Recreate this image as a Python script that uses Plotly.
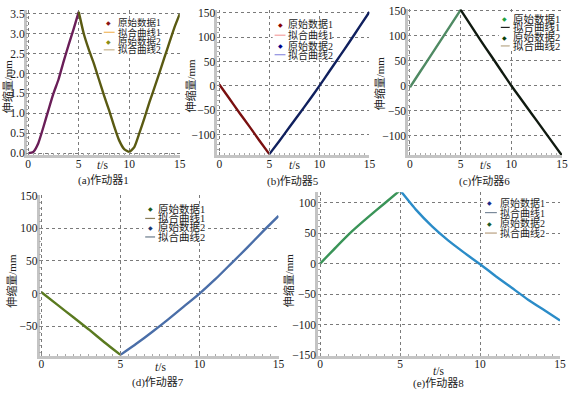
import plotly.graph_objects as go

# ---------------- data ----------------
t_half_0_5 = [0, 0.5, 1, 1.5, 2, 2.5, 3, 3.5, 4, 4.5, 5]
t_half_5_15 = [5, 5.5, 6, 6.5, 7, 7.5, 8, 8.5, 9, 9.5, 10, 10.5, 11, 11.5,
               12, 12.5, 13, 13.5, 14, 14.5, 15]
t_0_5 = [0, 1, 2, 3, 4, 5]
t_5_15 = [5, 6, 7, 8, 9, 10, 11, 12, 13, 14, 15]

# (a) actuator 1
a1_y = [0, 0.03, 0.25, 0.65, 1.08, 1.5, 1.85, 2.3, 2.72, 3.12, 3.55]
a2_y = [3.55, 3.0, 2.6, 2.25, 1.85, 1.45, 1.08, 0.68, 0.32, 0.1, 0.03, 0.15,
        0.5, 0.88, 1.28, 1.65, 2.03, 2.42, 2.8, 3.18, 3.5]
# (b) actuator 5
b1_y = [3, -26, -55, -83, -112, -140]
b2_y = [-140, -113, -85, -57, -29, 0, 30, 60, 90, 121, 152]
# (c) actuator 6
c1_y = [-3, 28, 59, 90, 121, 152]
c2_y = [152, 121, 90, 60, 30, 0, -28, -56, -84, -112, -140]
# (d) actuator 7
d1_y = [2, -17, -36, -55, -75, -94]
d2_y = [-94, -77, -59, -40, -20, 0, 22, 46, 70, 95, 119]
# (e) actuator 8
e1_y = [0, 27, 53, 76, 98, 120]
e2_y = [120, 88, 61, 38, 18, -1, -21, -40, -59, -76, -93]

x_ticks = [0, 5, 10, 15]
a_yticks = [0, 0.5, 1.0, 1.5, 2.0, 2.5, 3.0, 3.5]
bc_yticks = [-100, -50, 0, 50, 100, 150]
d_yticks = [-50, 0, 50, 100, 150]
e_yticks = [-150, -100, -50, 0, 50, 100]

titles = ["(a)作动器1", "(b)作动器5", "(c)作动器6", "(d)作动器7", "(e)作动器8"]
legend_labels = ["原始数据1", "拟合曲线1", "原始数据2", "拟合曲线2"]
x_title = "<i>t</i>/s"
y_title = "伸缩量/mm"

# ---------------- layout helpers ----------------
W, H = 571, 394
def fx(p):
    return p / W
def fy(p):
    return 1 - p / H

SERIF = "Liberation Serif"
MIXED = "Liberation Serif, Noto Sans CJK SC"

panels = [
    dict(xd=(26, 181), yd=(5, 154), xr=[-0.15, 15], yr=[-0.05, 3.6], yt=a_yticks, fmt=".1f", minor=0.1,
         curves=[(t_half_0_5, a1_y, "#6a1e58"), (t_half_5_15, a2_y, "#5a5a12")],
         title=(104, 180), xt=(103, 164), ytl=(6.5, 83),
         leg=dict(mx=109, tx=116, rows=[18, 28, 37, 46], lx=(104, 115), size=9.5, right=160,
                  cols=["#8b1414", "#f2b860", "#8c8c14", "#c8b48c"])),
    dict(xd=(219, 373), yd=(5, 154), xr=[-0.2, 15], yr=[-142, 156], yt=bc_yticks, fmt="d", minor=10,
         curves=[(t_0_5, b1_y, "#7a1010"), (t_5_15, b2_y, "#10205e")],
         title=(296, 181), xt=(297, 164), ytl=(192, 83),
         leg=dict(mx=283, tx=289, rows=[20, 31, 42, 51], lx=(277, 288), size=10, right=335,
                  cols=["#8b0000", "#f4a0a0", "#00008b", "#9090e0"])),
    dict(xd=(412, 568), yd=(4, 154), xr=[-0.2, 15], yr=[-139, 154], yt=bc_yticks, fmt="d", minor=10,
         curves=[(t_0_5, c1_y, "#4f8a63"), (t_5_15, c2_y, "#101a10")],
         title=(490, 181), xt=(491, 164), ytl=(384, 80),
         leg=dict(mx=510, tx=516, rows=[14, 23, 33, 42], lx=(506, 515), size=10.5, right=570,
                  cols=["#22a040", "#202020", "#0a400a", "#b8a888"])),
    dict(xd=(39, 281), yd=(195, 360), xr=[-0.12, 15], yr=[-95.5, 151], yt=d_yticks, fmt="d", minor=10,
         curves=[(t_0_5, d1_y, "#5a7a20"), (t_5_15, d2_y, "#4a6ea8")],
         title=(159, 387), xt=(161, 371), ytl=(11, 283),
         leg=dict(mx=151, tx=157, rows=[209, 219, 228, 238], lx=(146, 156), size=10.5, right=206,
                  cols=["#1d5a1d", "#8b7d5a", "#1a3570", "#6a7a8a"])),
    dict(xd=(321, 566), yd=(192, 360), xr=[-0.13, 15], yr=[-151, 117], yt=e_yticks, fmt="d", minor=10,
         curves=[(t_0_5, e1_y, "#3a9458"), (t_5_15, e2_y, "#2b8cc8")],
         title=(443, 388.5), xt=(443, 376), ytl=(291, 282),
         leg=dict(mx=495, tx=503, rows=[203, 213, 224, 234], lx=(490, 502), size=10, right=550,
                  cols=["#1a2a8a", "#7a8a9a", "#1a5a2a", "#b8a080"])),
]

fig = go.Figure()
layout = dict(width=W, height=H, margin=dict(l=0, r=0, t=0, b=0),
              paper_bgcolor="white", plot_bgcolor="white", showlegend=False,
              font=dict(family=MIXED, size=11, color="#222"))
annotations = []
shapes = []

for i, p in enumerate(panels):
    n = i + 1
    xa = "x" if n == 1 else f"x{n}"
    ya = "y" if n == 1 else f"y{n}"
    xkey = "xaxis" if n == 1 else f"xaxis{n}"
    ykey = "yaxis" if n == 1 else f"yaxis{n}"
    for (tx, ty, col) in p["curves"]:
        fig.add_trace(go.Scatter(x=tx, y=ty, mode="lines", xaxis=xa, yaxis=ya,
                                 line=dict(color=col, width=2.4, shape="spline", smoothing=0.5)))
    common = dict(showline=True, linecolor="#c4c4c4", linewidth=2.5, zeroline=False,
                  showgrid=True, gridcolor="#7a7a7a", griddash="dot", gridwidth=1,
                  ticks="inside", ticklen=3, tickcolor="#888",
                  tickfont=dict(family=SERIF, size=11.5, color="#222"))
    layout[xkey] = dict(common, domain=[fx(p["xd"][0]), fx(p["xd"][1])], range=p["xr"],
                        tickvals=x_ticks, anchor=ya, ticklabelstandoff=-4,
                        minor=dict(ticks="inside", ticklen=2, tickcolor="#aaa", dtick=0.5))
    ytickfmt = ".1f" if p["fmt"] == ".1f" else "d"
    layout[ykey] = dict(common, domain=[fy(p["yd"][1]), fy(p["yd"][0])], range=p["yr"],
                        tickvals=p["yt"], tickformat=ytickfmt, anchor=xa, ticklabelstandoff=-3,
                        minor=dict(ticks="inside", ticklen=2, tickcolor="#aaa", dtick=p["minor"]))
    # titles
    annotations.append(dict(x=fx(p["title"][0]), y=fy(p["title"][1]), xref="paper", yref="paper",
                            text=titles[i], showarrow=False, xanchor="center", yanchor="middle",
                            font=dict(family=MIXED, size=11, color="#222")))
    annotations.append(dict(x=fx(p["xt"][0]), y=fy(p["xt"][1]), xref="paper", yref="paper",
                            text=x_title, showarrow=False, xanchor="center", yanchor="middle",
                            font=dict(family=SERIF, size=11.5, color="#222")))
    annotations.append(dict(x=fx(p["ytl"][0]), y=fy(p["ytl"][1]), xref="paper", yref="paper",
                            text=y_title, showarrow=False, xanchor="center", yanchor="middle",
                            textangle=-90, font=dict(family=MIXED, size=11, color="#222")))
    # manual compact legend
    lg = p["leg"]
    rows = lg["rows"]
    shapes.append(dict(type="rect", xref="paper", yref="paper", layer="above",
                       x0=fx(lg["lx"][0] - 2), x1=fx(lg["right"]),
                       y0=fy(rows[-1] + 5), y1=fy(rows[0] - 5),
                       fillcolor="white", line=dict(width=0)))
    for k, lab in enumerate(legend_labels):
        yy = fy(rows[k])
        if k % 2 == 0:
            annotations.append(dict(x=fx(lg["mx"]), y=yy, xref="paper", yref="paper",
                                    text="◆", showarrow=False, xanchor="center", yanchor="middle",
                                    font=dict(family="DejaVu Sans", size=6, color=lg["cols"][k])))
        else:
            shapes.append(dict(type="line", xref="paper", yref="paper", layer="above",
                               x0=fx(lg["lx"][0]), x1=fx(lg["lx"][1]), y0=yy, y1=yy,
                               line=dict(color=lg["cols"][k], width=1.2)))
        annotations.append(dict(x=fx(lg["tx"]), y=yy, xref="paper", yref="paper",
                                text=lab, showarrow=False, xanchor="left", yanchor="middle",
                                font=dict(family=MIXED, size=lg["size"], color="#222")))

layout["annotations"] = annotations
layout["shapes"] = shapes
fig.update_layout(**layout)
fig.write_html("out.html", config={"displayModeBar": False},
               post_script="document.body.style.margin='0px';document.body.style.padding='0px';")
